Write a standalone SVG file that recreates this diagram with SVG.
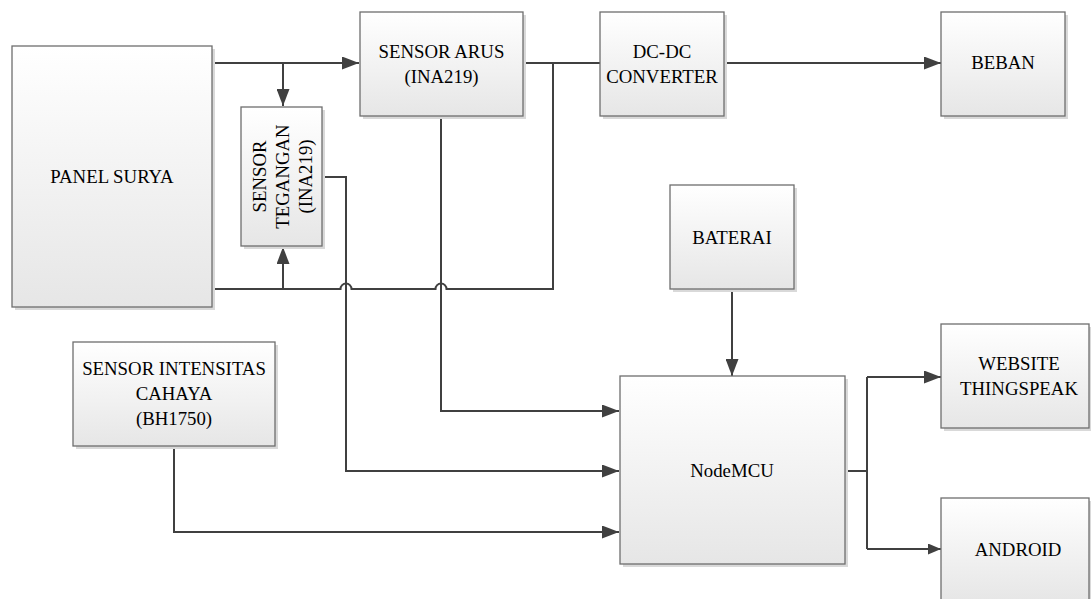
<svg xmlns="http://www.w3.org/2000/svg" width="1091" height="599" viewBox="0 0 1091 599">
<style>
.box{fill:url(#g);stroke:#6e6e6e;stroke-width:1.3}
.sh{fill:#d9d9d9}
.t{font-family:'Liberation Serif','DejaVu Serif',serif;font-size:18.8px;fill:#000;text-anchor:middle}
.c{fill:none;stroke:#404040;stroke-width:2}
</style>
<defs>
<linearGradient id="g" x1="0" y1="0" x2="0" y2="1">
<stop offset="0" stop-color="#ffffff"/>
<stop offset="1" stop-color="#e6e6e6"/>
</linearGradient>
<marker id="a" markerUnits="userSpaceOnUse" markerWidth="17" markerHeight="13" refX="17" refY="6.5" orient="auto">
<path d="M0,0 L17,6.5 L0,13 z" fill="#404040"/>
</marker>
<marker id="b" markerUnits="userSpaceOnUse" markerWidth="13" markerHeight="11" refX="13" refY="5.5" orient="auto">
<path d="M0,0 L13,5.5 L0,11 z" fill="#404040"/>
</marker>
</defs>

<g id="connectors">
<path class="c" d="M212,63 H359" marker-end="url(#a)"/>
<path class="c" d="M283,63 V106" marker-end="url(#a)"/>
<path class="c" d="M523,63 H600"/>
<path class="c" d="M724,63 H941" marker-end="url(#a)"/>
<path class="c" d="M212,289 H340.5 A5.5,5.5 0 0 1 351.5,289 H435.5 A5.5,5.5 0 0 1 446.5,289 H553 V63"/>
<path class="c" d="M283,289 V247" marker-end="url(#a)"/>
<path class="c" d="M322,177 H346 V471 H619" marker-end="url(#a)"/>
<path class="c" d="M441,116 V411 H619" marker-end="url(#a)"/>
<path class="c" d="M174,446 V532 H619" marker-end="url(#a)"/>
<path class="c" d="M732,289 V376" marker-end="url(#a)"/>
<path class="c" d="M845,471 H867"/>
<path class="c" d="M867,377 V549"/>
<path class="c" d="M867,377 H941" marker-end="url(#a)"/>
<path class="c" d="M867,549 H941" marker-end="url(#b)"/>
</g>

<g id="panel-surya">
<rect class="sh" x="15" y="49" width="200" height="261"/>
<rect class="box" x="12" y="46" width="200" height="261"/>
<text class="t" x="112" y="183">PANEL SURYA</text>
</g>

<g id="sensor-tegangan">
<rect class="sh" x="244" y="110" width="81" height="139"/>
<rect class="box" x="241" y="107" width="81" height="139"/>
<g transform="translate(283,176.5) rotate(-90)">
<text class="t" x="0" y="-17">SENSOR</text>
<text class="t" x="0" y="6.2">TEGANGAN</text>
<text class="t" x="0" y="29">(INA219)</text>
</g>
</g>

<g id="sensor-arus">
<rect class="sh" x="363" y="15" width="163" height="104"/>
<rect class="box" x="360" y="12" width="163" height="104"/>
<text class="t" x="441.5" y="58">SENSOR ARUS</text>
<text class="t" x="441.5" y="83">(INA219)</text>
</g>

<g id="dc-dc-converter">
<rect class="sh" x="603" y="15" width="124" height="104"/>
<rect class="box" x="600" y="12" width="124" height="104"/>
<text class="t" x="662" y="58">DC-DC</text>
<text class="t" x="662" y="83">CONVERTER</text>
</g>

<g id="beban">
<rect class="sh" x="944" y="15" width="124" height="104"/>
<rect class="box" x="941" y="12" width="124" height="104"/>
<text class="t" x="1003" y="69">BEBAN</text>
</g>

<g id="baterai">
<rect class="sh" x="673" y="188" width="124" height="104"/>
<rect class="box" x="670" y="185" width="124" height="104"/>
<text class="t" x="732" y="244">BATERAI</text>
</g>

<g id="sensor-intensitas-cahaya">
<rect class="sh" x="76" y="345" width="202" height="104"/>
<rect class="box" x="73" y="342" width="202" height="104"/>
<text class="t" x="174" y="375">SENSOR INTENSITAS</text>
<text class="t" x="174" y="400">CAHAYA</text>
<text class="t" x="174" y="425">(BH1750)</text>
</g>

<g id="nodemcu">
<rect class="sh" x="623" y="379" width="225" height="188"/>
<rect class="box" x="620" y="376" width="225" height="188"/>
<text class="t" x="732" y="477">NodeMCU</text>
</g>

<g id="website-thingspeak">
<rect class="sh" x="944" y="327" width="150" height="104"/>
<rect class="box" x="941" y="324" width="148" height="104"/>
<text class="t" x="1019" y="369.5">WEBSITE</text>
<text class="t" x="1019" y="394.5">THINGSPEAK</text>
</g>

<g id="android">
<rect class="sh" x="944" y="501" width="150" height="104"/>
<rect class="box" x="941" y="498" width="148" height="104"/>
<text class="t" x="1018" y="555.5">ANDROID</text>
</g>
</svg>
